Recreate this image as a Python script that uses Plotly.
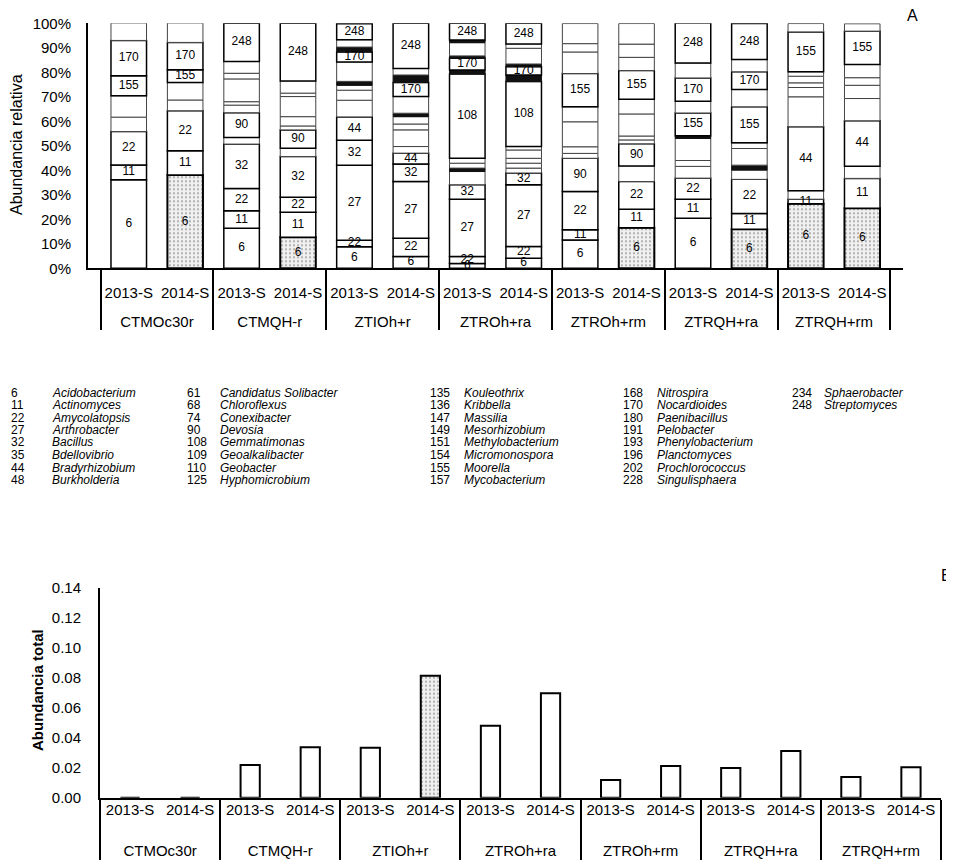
import plotly.graph_objects as go
import numpy as np

FONT = "Liberation Sans, Arial, sans-serif"

# ---------------- data ----------------
groups = ["CTMOc30r", "CTMQH-r", "ZTIOh+r", "ZTROh+ra", "ZTROh+rm", "ZTRQH+ra", "ZTRQH+rm"]
years = ["2013-S", "2014-S"]

# Panel A: relative abundance segments (bottom -> top), %
seg_heights = [
    [36.1, 6.1, 13.6, 5.9, 8.7, 8.2, 14.4, 7.1],
    [38.1, 9.9, 16.3, 4.4, 7.1, 5.2, 11.2, 7.9],
    [16.3, 7.2, 9.1, 18.1, 2.7, 10.1, 3.1, 1.4, 9.3, 2.3, 4.8, 15.6],
    [12.7, 10.2, 6.1, 16.6, 3.4, 7.5, 1.6, 3.8, 8.2, 1.4, 5.0, 23.5],
    [8.8, 2.7, 30.6, 10.2, 9.5, 6.8, 4.1, 2.0, 1.6, 7.9, 4.1, 2.0, 3.0, 6.5],
    [4.8, 7.5, 23.1, 7.2, 4.4, 2.7, 6.8, 2.4, 3.0, 1.4, 6.8, 5.7, 3.1, 2.7, 18.4],
    [2.0, 2.8, 23.4, 5.9, 5.4, 1.4, 2.0, 2.0, 34.4, 1.6, 4.8, 1.0, 5.4, 1.1, 6.8],
    [4.1, 4.8, 25.2, 4.8, 2.0, 2.0, 2.0, 3.4, 1.4, 26.5, 2.7, 3.4, 1.1, 6.4, 1.8, 8.4],
    [11.6, 4.1, 15.6, 13.6, 2.0, 2.7, 10.2, 6.1, 13.6, 8.8, 3.4, 8.2],
    [16.6, 7.5, 11.3, 6.4, 9.0, 1.6, 1.6, 9.0, 6.0, 11.7, 5.4, 5.4, 8.4],
    [20.4, 7.8, 8.6, 4.8, 2.4, 9.0, 1.1, 9.3, 4.8, 9.5, 6.1, 16.3],
    [15.9, 6.5, 13.9, 3.8, 2.0, 6.8, 2.3, 14.7, 7.1, 7.2, 5.0, 14.7],
    [26.3, 1.9, 3.5, 26.1, 12.2, 3.8, 1.9, 2.7, 1.8, 16.3, 3.4],
    [24.5, 12.2, 5.0, 18.5, 9.1, 5.4, 3.1, 5.4, 13.6, 3.0],
]
seg_labels = [
    ["6", "11", "22", "", "", "155", "170", ""],
    ["6", "11", "22", "", "", "155", "170", ""],
    ["6", "11", "22", "32", "", "90", "", "", "", "", "", "248"],
    ["6", "11", "22", "32", "", "90", "", "", "", "", "", "248"],
    ["6", "22", "27", "32", "44", "", "", "", "", "", "170", "", "", "248"],
    ["6", "22", "27", "32", "44", "", "", "", "", "", "", "170", "", "", "248"],
    ["6", "22", "27", "32", "", "", "", "", "108", "", "170", "", "", "", "248"],
    ["6", "22", "27", "32", "", "", "", "", "", "108", "", "170", "", "", "", "248"],
    ["6", "11", "22", "90", "", "", "", "", "155", "", "", ""],
    ["6", "11", "22", "", "90", "", "", "", "", "155", "", "", ""],
    ["6", "11", "22", "", "", "", "", "155", "", "170", "", "248"],
    ["6", "11", "22", "", "", "", "", "155", "", "170", "", "248"],
    ["6", "11", "", "44", "", "", "", "", "", "155", ""],
    ["6", "11", "", "44", "", "", "", "", "155", ""],
]
# very thin segments drawn as dark bands (bar index -> segment indices)
dark_segments = {4: [8, 11], 5: [9, 12], 6: [5, 9, 11, 13], 7: [10, 12], 10: [6], 11: [4]}
# bars whose bottom segment is stippled grey
stippled_bars_a = [1, 3, 9, 11, 12, 13]

# Panel B: total abundance
total_abundance = [0.0, 0.0, 0.0218, 0.0336, 0.0333, 0.0813, 0.0480, 0.0696,
                   0.0118, 0.0211, 0.0198, 0.0311, 0.0138, 0.0203]
stippled_bars_b = [5]

# Key of genera
legend_codes = [6, 11, 22, 27, 32, 35, 44, 48, 61, 68, 74, 90, 108, 109, 110, 125,
                135, 136, 147, 149, 151, 154, 155, 157, 168, 170, 180, 191, 193, 196,
                202, 228, 234, 248]
legend_names = ["Acidobacterium", "Actinomyces", "Amycolatopsis", "Arthrobacter", "Bacillus",
                "Bdellovibrio", "Bradyrhizobium", "Burkholderia", "Candidatus Solibacter",
                "Chloroflexus", "Conexibacter", "Devosia", "Gemmatimonas", "Geoalkalibacter",
                "Geobacter", "Hyphomicrobium", "Kouleothrix", "Kribbella", "Massilia",
                "Mesorhizobium", "Methylobacterium", "Micromonospora", "Moorella",
                "Mycobacterium", "Nitrospira", "Nocardioides", "Paenibacillus", "Pelobacter",
                "Phenylobacterium", "Planctomyces", "Prochlorococcus", "Singulisphaera",
                "Sphaerobacter", "Streptomyces"]

# ---------------- figure ----------------
OFF = 8                      # the page shows the plot 8 px in from the top-left corner
W, H = 954 - OFF, 862 - OFF
fig = go.Figure()

def px_x(x):
    return (x - OFF) / W

def px_y(y):
    return 1 - (y - OFF) / H

# outer-level axis labels are pushed one line lower (blank first line)
group_ticks = ["<br>" + g for g in groups]

txt_x0, txt_x1, txt_y, txt_s = [], [], [], []
bar_index = 0
for gt in group_ticks:
    for yr in years:
        hts = seg_heights[bar_index]
        labs = seg_labels[bar_index]
        n = len(hts)
        bases = np.concatenate([[0], np.cumsum(hts)[:-1]])
        colors, shapes, lw, lc = [], [], [], []
        for k in range(n):
            if k in dark_segments.get(bar_index, []):
                colors.append("#111111"); shapes.append(""); lw.append(1); lc.append("#111111")
            elif k == 0 and bar_index in stippled_bars_a:
                colors.append("#f0f0f0"); shapes.append("."); lw.append(2); lc.append("#000000")
            else:
                colors.append("white"); shapes.append("")
                if labs[k]:
                    lw.append(1.5); lc.append("#000000")
                else:
                    lw.append(1); lc.append("#444444")
            if labs[k]:
                txt_x0.append(gt); txt_x1.append(yr)
                txt_y.append(bases[k] + hts[k] / 2); txt_s.append(labs[k])
        fig.add_trace(go.Bar(
            x=[[gt] * n, [yr] * n], y=hts, base=bases, width=0.63,
            marker=dict(color=colors, line=dict(width=lw, color=lc),
                        pattern=dict(shape=shapes, fgcolor="#8a8a8a", size=4, solidity=0.18)),
            xaxis="x", yaxis="y", showlegend=False, hoverinfo="skip"))
        bar_index += 1

fig.add_trace(go.Scatter(
    x=[txt_x0, txt_x1], y=txt_y, text=txt_s, mode="text", textposition="middle center",
    textfont=dict(family=FONT, size=12, color="black"),
    xaxis="x", yaxis="y", showlegend=False, hoverinfo="skip", cliponaxis=False))

xb = [[], []]
for gt in group_ticks:
    for yr in years:
        xb[0].append(gt); xb[1].append(yr)
fig.add_trace(go.Bar(
    x=xb, y=total_abundance, width=0.32,
    marker=dict(color=["#efefef" if i in stippled_bars_b else "white" for i in range(len(total_abundance))],
                line=dict(width=2, color="black"),
                pattern=dict(shape=["." if i in stippled_bars_b else "" for i in range(len(total_abundance))],
                             fgcolor="#8a8a8a", size=4, solidity=0.18)),
    xaxis="x2", yaxis="y2", showlegend=False, hoverinfo="skip"))

axis_common = dict(showgrid=False, zeroline=False, showline=True, linecolor="black",
                   tickfont=dict(family=FONT, size=15, color="black"))

fig.update_layout(
    width=W, height=H, margin=dict(l=0, r=0, t=0, b=0, autoexpand=False),
    paper_bgcolor="white", plot_bgcolor="white", barmode="overlay",
    font=dict(family=FONT, color="black"),
    xaxis=dict(domain=[px_x(88), px_x(903)], anchor="y", type="multicategory",
               categoryorder="trace", linewidth=1.5, ticks="", showdividers=True,
               dividercolor="black", dividerwidth=1.5, ticklabelstandoff=10, **axis_common),
    yaxis=dict(domain=[px_y(268.3), px_y(23.3)], anchor="x", range=[0, 100],
               tickvals=list(range(0, 101, 10)), ticktext=[f"{v}%" for v in range(0, 101, 10)],
               ticks="", linewidth=2, ticklabelstandoff=12, **axis_common),
    xaxis2=dict(domain=[px_x(100), px_x(941)], anchor="y2", type="multicategory",
                categoryorder="trace", linewidth=2, ticks="", showdividers=True,
                dividercolor="black", dividerwidth=1.5, ticklabelstandoff=-3, **axis_common),
    yaxis2=dict(domain=[px_y(797.7), px_y(587.7)], anchor="x2", range=[0, 0.14],
                dtick=0.02, tickformat=".2f", ticks="", linewidth=2, ticklabelstandoff=14,
                **axis_common),
)

ann = []
ann.append(dict(x=px_x(16), y=px_y(145), xref="paper", yref="paper", text="Abundancia relativa",
                textangle=-90, showarrow=False, xanchor="center", yanchor="middle",
                font=dict(family=FONT, size=16)))
ann.append(dict(x=px_x(37), y=px_y(690), xref="paper", yref="paper", text="<b>Abundancia total</b>",
                textangle=-90, showarrow=False, xanchor="center", yanchor="middle",
                font=dict(family=FONT, size=15)))
ann.append(dict(x=px_x(912), y=px_y(15), xref="paper", yref="paper", text="A",
                showarrow=False, xanchor="center", yanchor="middle", font=dict(family=FONT, size=16)))
ann.append(dict(x=px_x(946), y=px_y(575), xref="paper", yref="paper", text="B",
                showarrow=False, xanchor="center", yanchor="middle", font=dict(family=FONT, size=16)))

code_x = [9, 185, 428, 621, 790]
name_x = [50, 218, 462, 655, 822]
for i, (c, nme) in enumerate(zip(legend_codes, legend_names)):
    col, row = divmod(i, 8)
    yy = 392.5 + 12.5 * row
    ann.append(dict(x=px_x(code_x[col]), y=px_y(yy), xref="paper", yref="paper", text=str(c),
                    xanchor="left", yanchor="middle", showarrow=False,
                    font=dict(family=FONT, size=12)))
    ann.append(dict(x=px_x(name_x[col]), y=px_y(yy), xref="paper", yref="paper",
                    text="<i>" + nme + "</i>", xanchor="left", yanchor="middle", showarrow=False,
                    font=dict(family=FONT, size=12)))
fig.update_layout(annotations=ann)

fig.write_html("out.html")
